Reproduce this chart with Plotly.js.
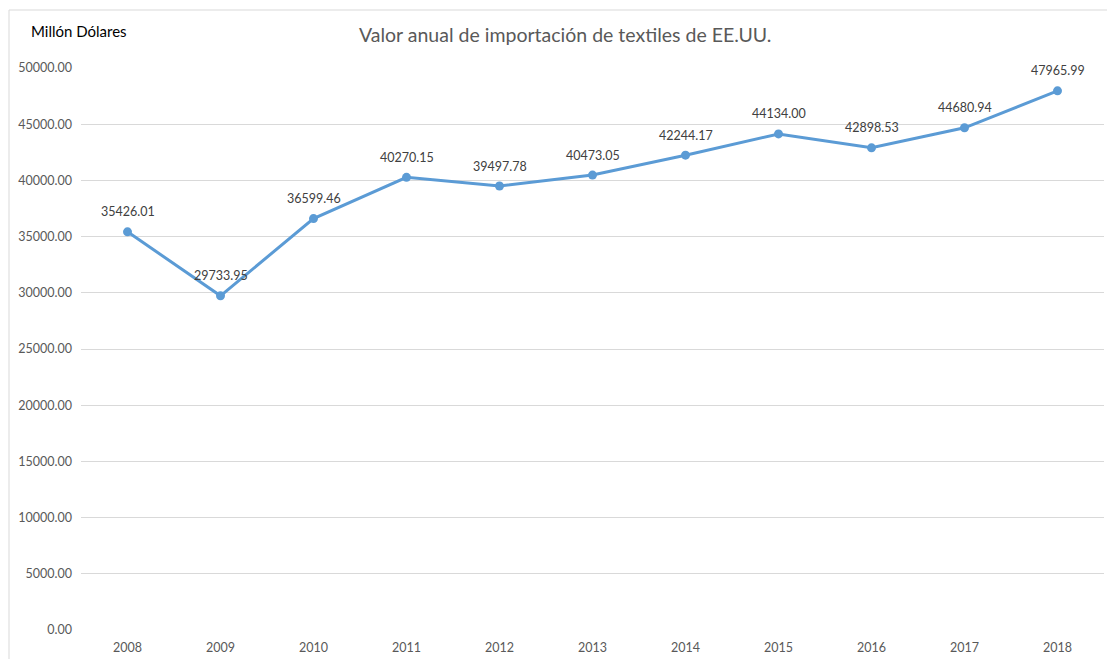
<!DOCTYPE html>
<html>
<head>
<meta charset="utf-8">
<script src="https://cdn.plot.ly/plotly-3.0.1.min.js"></script>
<style>html,body{margin:0;padding:0;background:#fff;}#chart{width:1107px;height:659px;}</style>
</head>
<body>
<div id="chart"></div>
<script>
const years = ['2008','2009','2010','2011','2012','2013','2014','2015','2016','2017','2018'];
const values = [35426.01, 29733.95, 36599.46, 40270.15, 39497.78, 40473.05, 42244.17, 44134.00, 42898.53, 44680.94, 47965.99];
const labels = values.map(v => v.toFixed(2));

const L = 81, R = 3, T = 68, B = 29, W = 1107, H = 659;
const pw = W - L - R, ph = H - T - B;
const px = x => (x - L) / pw;
const py = y => (H - B - y) / ph;
const FONT = 'Lato, "Open Sans", sans-serif';

const trace = {
  x: years, y: values, type: 'scatter', mode: 'lines+markers',
  line: {color: '#5B9BD5', width: 3},
  marker: {color: '#5B9BD5', size: 9},
  cliponaxis: false, hoverinfo: 'x+y'
};

const dataLabels = years.map((yr, i) => ({
  x: i, y: values[i], xref: 'x', yref: 'y', text: labels[i], showarrow: false,
  xanchor: 'center', yanchor: 'middle', yshift: 20,
  font: {family: FONT, size: 12.5, color: '#404040'}
}));

const layout = {
  width: W, height: H,
  margin: {l: L, r: R, t: T, b: B},
  paper_bgcolor: '#fff', plot_bgcolor: '#fff',
  font: {family: FONT, color: '#595959'},
  showlegend: false,
  xaxis: {type: 'category', showgrid: false, zeroline: false, showline: false,
    ticks: '', ticklabelstandoff: 8, tickfont: {size: 12.5, color: '#595959'}, range: [-0.5, 10.5]},
  yaxis: {range: [0, 50000], dtick: 5000, tickformat: '.2f', showgrid: true,
    gridcolor: '#d9d9d9', gridwidth: 1, zeroline: false, showline: false,
    ticks: '', ticklabelstandoff: 8, tickfont: {size: 12.5, color: '#595959'}},
  shapes: [{type: 'rect', xref: 'paper', yref: 'paper',
    x0: px(9), x1: px(1110), y0: py(665), y1: py(10),
    line: {color: '#d9d9d9', width: 1}, fillcolor: 'rgba(0,0,0,0)', layer: 'below'}],
  annotations: [
    {text: 'Valor anual de importación de textiles de EE.UU.', xref: 'paper', yref: 'paper',
     x: px(565), y: py(35), xanchor: 'center', yanchor: 'middle', showarrow: false,
     font: {size: 19.5, color: '#595959', family: FONT}},
    {text: 'Millón Dólares', xref: 'paper', yref: 'paper',
     x: px(29), y: py(31), xanchor: 'left', yanchor: 'middle', showarrow: false,
     font: {size: 15, color: '#000', family: FONT}}
  ].concat(dataLabels)
};

Plotly.newPlot('chart', [trace], layout, {displayModeBar: false, staticPlot: true});
</script>
</body>
</html>
